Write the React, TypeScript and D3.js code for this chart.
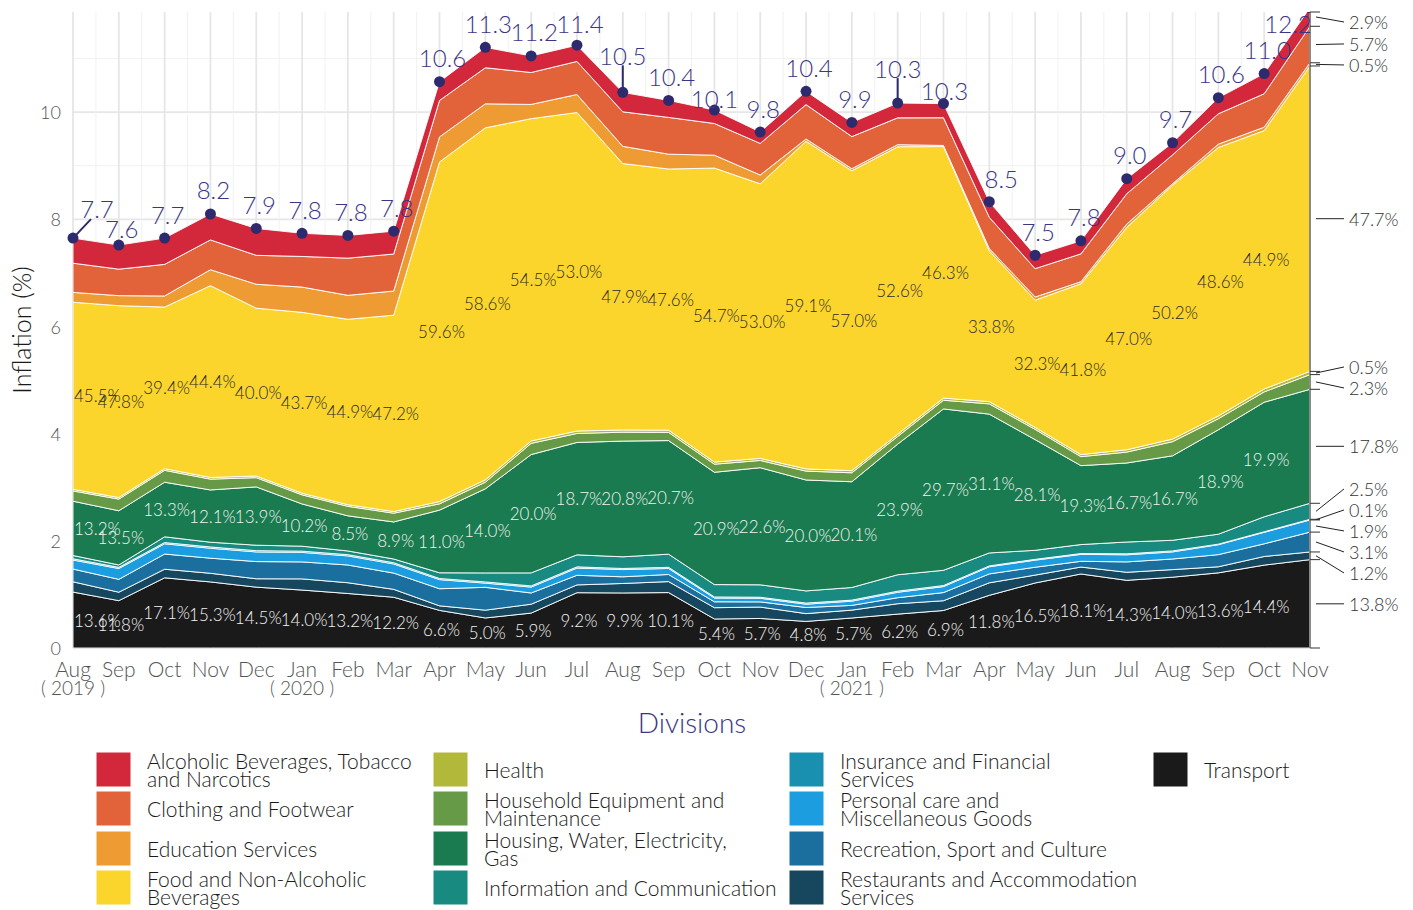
import React from 'react';
import * as d3 from 'd3';

const months = ["Aug","Sep","Oct","Nov","Dec","Jan","Feb","Mar","Apr","May","Jun","Jul","Aug","Sep","Oct","Nov","Dec","Jan","Feb","Mar","Apr","May","Jun","Jul","Aug","Sep","Oct","Nov"];
const yearLabels: [number, string][] = [[0, "( 2019 )"], [5, "( 2020 )"], [17, "( 2021 )"]];
const yTicks = [0, 2, 4, 6, 8, 10];

// headline inflation (labels)
const headline = [7.7,7.6,7.7,8.2,7.9,7.8,7.8,7.8,10.6,11.3,11.2,11.4,10.5,10.4,10.1,9.8,10.4,9.9,10.3,10.3,8.5,7.5,7.8,9.0,9.7,10.6,11.0,12.2];
// sum of contributions (height of the stack)
const stackTotal = [7.65,7.52,7.65,8.10,7.83,7.74,7.70,7.78,10.57,11.21,11.05,11.25,10.37,10.22,10.04,9.63,10.39,9.81,10.17,10.16,8.33,7.33,7.60,8.76,9.43,10.27,10.72,11.95];

// shares of each division (%)
const alcoholic = [6.1,6.0,6.4,6.0,6.4,5.6,5.5,5.5,3.3,3.4,2.8,2.7,3.5,3.1,2.5,2.2,2.4,2.7,2.7,2.6,3.5,3.4,3.2,3.2,2.4,2.9,3.5,2.9];
const clothing = [7.1,6.6,7.7,6.9,6.9,7.4,9.0,8.9,6.4,6.0,5.4,5.5,6.2,6.7,5.9,6.1,6.2,6.1,4.9,5.1,7.0,7.2,6.8,6.4,5.7,5.5,5.8,5.7];
const education = [2.4,2.5,2.7,3.7,5.7,6.1,5.8,5.8,4.4,4.0,2.4,3.0,3.1,2.7,2.4,1.7,0.4,0.4,0.4,0.2,0.5,0.8,0.5,0.7,0.3,0.6,0.6,0.5];
const food = [45.5,47.8,39.4,44.4,40.0,43.7,44.9,47.2,59.6,58.6,54.5,53.0,47.9,47.6,54.7,53.0,59.1,57.0,52.6,46.3,33.8,32.3,41.8,47.0,50.2,48.6,44.9,47.7];
const health = [0.4,0.4,0.4,0.4,0.4,0.4,0.4,0.4,0.4,0.4,0.4,0.4,0.4,0.4,0.4,0.4,0.4,0.4,0.4,0.4,0.5,0.5,0.5,0.5,0.5,0.5,0.5,0.5];
const household = [2.5,2.9,2.9,2.5,2.2,2.2,2.3,2.1,1.1,1.1,1.9,1.5,1.6,1.5,1.5,1.4,1.6,1.7,1.4,1.6,2.3,2.6,2.2,2.3,2.8,2.0,1.8,2.3];
const housing = [13.2,13.5,13.3,12.1,13.9,10.2,8.5,8.9,11.0,14.0,20.0,18.7,20.8,20.7,20.9,22.6,20.0,20.1,23.9,29.7,31.1,28.1,19.3,16.7,16.7,18.9,19.9,17.8];
const information = [0.8,0.6,1.4,1.1,1.3,1.2,0.9,0.9,1.0,1.5,2.2,2.0,2.1,2.4,2.3,2.4,2.2,2.4,3.0,2.8,2.9,2.3,2.2,2.5,2.1,1.8,2.6,2.5];
const insurance = [0.3,0.3,0.3,0.3,0.3,0.3,0.3,0.3,0.2,0.2,0.2,0.2,0.2,0.2,0.2,0.2,0.2,0.2,0.2,0.2,0.2,0.2,0.2,0.2,0.2,0.1,0.1,0.1];
const personal = [2.2,2.7,2.5,2.3,2.3,2.3,2.2,2.2,1.6,0.7,1.0,1.2,1.3,1.1,0.7,0.7,0.6,0.8,1.0,1.1,1.6,1.8,1.7,1.5,1.4,1.8,2.0,1.9];
const recreation = [3.1,3.2,3.7,3.5,4.1,4.1,4.3,3.9,3.0,3.8,1.9,1.6,1.2,1.3,1.1,1.0,1.1,0.9,1.1,1.5,2.0,2.0,1.4,2.2,2.1,2.2,2.2,3.1];
const restaurants = [2.5,2.1,2.1,2.0,2.0,2.7,2.6,1.9,0.8,1.3,1.5,1.3,1.7,2.0,2.1,2.2,1.4,1.5,1.9,1.8,2.8,2.0,1.7,1.7,1.5,1.1,1.5,1.2];
const transport = [13.6,11.8,17.1,15.3,14.5,14.0,13.2,12.2,6.6,5.0,5.9,9.2,9.9,10.1,5.4,5.7,4.8,5.7,6.2,6.9,11.8,16.5,18.1,14.3,14.0,13.6,14.4,13.8];

// top of stack first (legend order)
const categories = [
  { key: "alc", lines: ["Alcoholic Beverages, Tobacco", "and Narcotics"], color: "#d3283c", share: alcoholic },
  { key: "clo", lines: ["Clothing and Footwear"], color: "#e2623a", share: clothing },
  { key: "edu", lines: ["Education Services"], color: "#ee9b33", share: education },
  { key: "food", lines: ["Food and Non-Alcoholic", "Beverages"], color: "#fbd52c", share: food },
  { key: "hea", lines: ["Health"], color: "#b2b83a", share: health },
  { key: "hh", lines: ["Household Equipment and", "Maintenance"], color: "#669a47", share: household },
  { key: "hou", lines: ["Housing, Water, Electricity,", "Gas"], color: "#1a7a50", share: housing },
  { key: "inf", lines: ["Information and Communication"], color: "#188a80", share: information },
  { key: "ins", lines: ["Insurance and Financial", "Services"], color: "#1a90b0", share: insurance },
  { key: "per", lines: ["Personal care and", "Miscellaneous Goods"], color: "#1b9de0", share: personal },
  { key: "rec", lines: ["Recreation, Sport and Culture"], color: "#1a6f9e", share: recreation },
  { key: "res", lines: ["Restaurants and Accommodation", "Services"], color: "#17475e", share: restaurants },
  { key: "tra", lines: ["Transport"], color: "#1a1a1a", share: transport },
];

// label nudges for the headline labels: [dx, dy, leader]
const totalNudge: Record<number, [number, number, boolean]> = {
  0: [24, -30, true], 1: [3, -17, false], 12: [0, -37, true], 14: [0, -12, false],
  18: [0, -35, true], 19: [1, -13, false], 20: [12, -23, false], 27: [-22, -24, false],
};

const FONT = "Lato, 'Open Sans', sans-serif";
const W = 1413, H = 910;
const P = { left: 73, right: 1310, top: 12, bottom: 648 };

export default function App() {
  const n = months.length;
  const x = d3.scaleLinear().domain([0, n - 1]).range([P.left, P.right]);
  const y = d3.scaleLinear().domain([0, 11.87]).range([P.bottom, P.top]);

  const rows = months.map((_, i) => {
    const sum = d3.sum(categories, c => c.share[i]);
    const r: Record<string, number> = {};
    categories.forEach(c => { r[c.key] = stackTotal[i] * c.share[i] / sum; });
    return r;
  });
  const keysBottomUp = categories.map(c => c.key).reverse();
  const series = d3.stack<Record<string, number>>().keys(keysBottomUp)(rows);
  const byKey: Record<string, any> = {};
  series.forEach(s => { byKey[s.key] = s; });
  const area = d3.area<any>().x((_, i) => x(i)).y0(d => y(d[0])).y1(d => y(d[1]));

  const colorOf: Record<string, string> = {};
  categories.forEach(c => { colorOf[c.key] = c.color; });

  const vMajor = d3.range(n);
  const vMinor = d3.range(n - 1).map(i => i + 0.5);
  const hLines = d3.range(0, 12);

  const inner = [
    { key: "tra", color: "#f2f2f2" },
    { key: "hou", color: "#eef3ee" },
    { key: "food", color: "#2b2b2b" },
  ];

  const last = n - 1;
  const rl = series.map(s => {
    const d = s[last];
    const cat = categories.find(c => c.key === s.key)!;
    const mid = y((d[0] + d[1]) / 2);
    return { key: s.key, mid, text: cat.share[last].toFixed(1) + "%", pos: mid };
  }).sort((a, b) => a.mid - b.mid);
  const gap = 21;
  for (let it = 0; it < 300; it++) {
    for (let k = 0; k < rl.length - 1; k++) {
      const a = rl[k], b = rl[k + 1];
      const d = b.pos - a.pos;
      if (d < gap) { const m = (gap - d) / 2; a.pos -= m; b.pos += m; }
    }
    rl.forEach(r => { r.pos = Math.max(22, Math.min(640, r.pos)); });
  }
  const boundaries: number[] = [0];
  series.forEach(s => boundaries.push(s[last][1]));

  const legendCols = [96, 433, 789, 1153];
  const legendRows = [752, 791, 831, 870];
  const keySize = 35;

  return (
    <svg width={W} height={H} style={{ position: "absolute", left: 0, top: 0, background: "#fff" }} fontFamily={FONT}>
      <defs>
        <clipPath id="panel"><rect x={P.left - 8} y={P.top} width={P.right - P.left + 8} height={P.bottom - P.top + 2} /></clipPath>
        <clipPath id="panelA"><rect x={P.left} y={P.top} width={P.right - P.left} height={P.bottom - P.top} /></clipPath>
      </defs>
      <g>
        {hLines.map(v => (
          <line key={"h" + v} x1={P.left} x2={P.right} y1={y(v)} y2={y(v)} stroke={v % 2 === 0 ? "#e6e6e6" : "#f1f1f1"} strokeWidth={v % 2 === 0 ? 1.8 : 1} />
        ))}
        {vMinor.map(v => (
          <line key={"vm" + v} x1={x(v)} x2={x(v)} y1={P.top} y2={P.bottom} stroke="#f1f1f1" strokeWidth={1} />
        ))}
        {vMajor.map(v => (
          <line key={"v" + v} x1={x(v)} x2={x(v)} y1={P.top} y2={P.bottom} stroke="#e6e6e6" strokeWidth={1.8} />
        ))}
      </g>
      <g clipPath="url(#panelA)">
        {series.map(s => (
          <path key={s.key} d={area(s as any) || ""} fill={colorOf[s.key]} stroke="#ffffff" strokeOpacity={0.9} strokeWidth={1} />
        ))}
      </g>
      <line x1={P.right} x2={P.right} y1={P.top} y2={P.bottom} stroke="#8a8a8a" strokeWidth={2} />
      {boundaries.map((b, i) => (
        <line key={"bt" + i} x1={P.right} x2={P.right + 10} y1={Math.max(P.top, y(b))} y2={Math.max(P.top, y(b))} stroke="#333" strokeWidth={1} />
      ))}
      {rl.map(r => (
        <g key={"rl" + r.key}>
          <line x1={P.right + 6} y1={Math.max(P.top + 4, r.mid)} x2={1344} y2={r.pos} stroke="#222" strokeWidth={1} />
          <text x={1349} y={r.pos} dominantBaseline="central" fontSize={18} fill="#333" fontWeight={300}>{r.text}</text>
        </g>
      ))}
      {inner.map(l => (
        <g key={"in" + l.key}>
          {d3.range(n - 1).map(i => {
            const d = byKey[l.key][i];
            const cat = categories.find(c => c.key === l.key)!;
            const first = i === 0;
            return (
              <text key={i} x={first ? P.left + 1 : x(i) + 2} y={y((d[0] + d[1]) / 2)} textAnchor={first ? "start" : "middle"} dominantBaseline="central" fontSize={17} fill={l.color} fontWeight={300}>
                {cat.share[i].toFixed(1)}%
              </text>
            );
          })}
        </g>
      ))}
      <g clipPath="url(#panel)">
        {months.map((_, i) => (
          <circle key={"d" + i} cx={x(i)} cy={y(stackTotal[i])} r={5.5} fill="#2e2a6e" />
        ))}
      </g>
      {months.map((_, i) => {
        const nudge = totalNudge[i] || [3, -24, false];
        const cx = x(i), cy = y(stackTotal[i]);
        const lx = cx + nudge[0];
        const ly = Math.max(P.top + 11, cy + nudge[1]);
        return (
          <g key={"t" + i}>
            {nudge[2] && (nudge[0] !== 0
              ? <line x1={cx} y1={cy} x2={lx - 6} y2={ly + 11} stroke="#2e2a6e" strokeWidth={2} />
              : <line x1={cx} y1={cy} x2={cx} y2={ly + 10} stroke="#2e2a6e" strokeWidth={2} />)}
            <text x={lx} y={ly} textAnchor="middle" dominantBaseline="central" fontSize={24} fill="#3b3586" fontWeight={300}>
              {headline[i].toFixed(1)}
            </text>
          </g>
        );
      })}
      {yTicks.map(v => (
        <text key={"yt" + v} x={61} y={y(v)} textAnchor="end" dominantBaseline="central" fontSize={18} fill="#555" fontWeight={300}>{v}</text>
      ))}
      <text transform={`translate(${21},${330}) rotate(-90)`} textAnchor="middle" dominantBaseline="central" fontSize={25} fill="#1a1a1a" fontWeight={300}>Inflation (%)</text>
      {months.map((m, i) => (
        <text key={"xt" + i} x={x(i)} y={668} textAnchor="middle" dominantBaseline="central" fontSize={21} fill="#555" fontWeight={300}>{m}</text>
      ))}
      {yearLabels.map(([i, t]) => (
        <text key={"yl" + i} x={x(i)} y={687} textAnchor="middle" dominantBaseline="central" fontSize={19} fill="#555" fontWeight={300} style={{ whiteSpace: "pre" }}>{t}</text>
      ))}
      <text x={692} y={722} textAnchor="middle" dominantBaseline="central" fontSize={28} fill="#3b3586" fontWeight={300}>Divisions</text>
      {categories.map((c, k) => {
        const col = Math.floor(k / 4), row = k % 4;
        const kx = legendCols[col], ky = legendRows[row];
        const tx = kx + keySize + 16;
        const cy = ky + keySize / 2;
        return (
          <g key={"lg" + c.key}>
            <rect x={kx} y={ky} width={keySize} height={keySize} fill={c.color} stroke="#ffffff" strokeWidth={1} />
            {c.lines.length === 1 ? (
              <text x={tx} y={cy} dominantBaseline="central" fontSize={21} fill="#1a1a1a" fontWeight={300}>{c.lines[0]}</text>
            ) : (
              c.lines.map((ln, j) => (
                <text key={j} x={tx} y={cy - 9 + j * 18} dominantBaseline="central" fontSize={21} fill="#1a1a1a" fontWeight={300}>{ln}</text>
              ))
            )}
          </g>
        );
      })}
    </svg>
  );
}
